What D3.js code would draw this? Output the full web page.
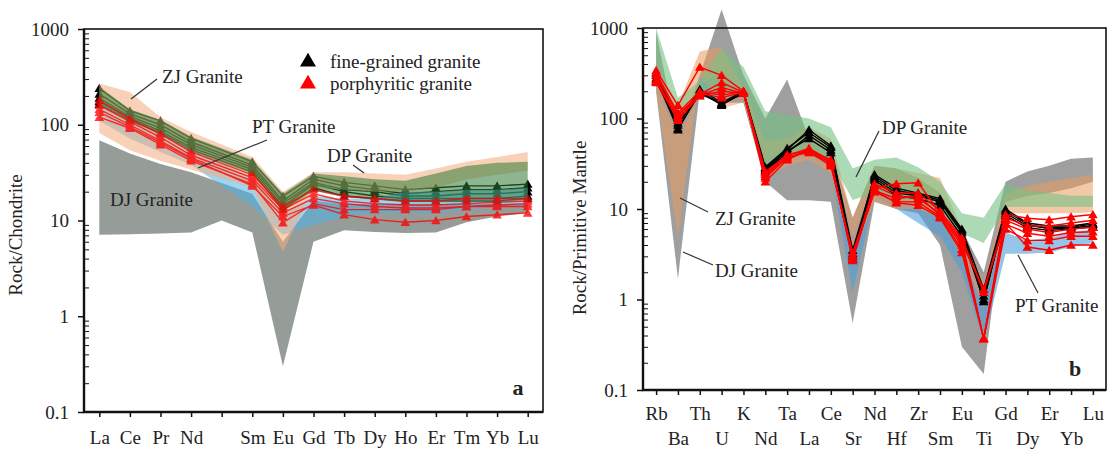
<!DOCTYPE html>
<html>
<head>
<meta charset="utf-8">
<script src="https://cdn.jsdelivr.net/npm/d3@7"></script>
<style>
body { margin: 0; background: #fff; }
svg text { font-family: "Liberation Serif", "Times New Roman", serif; fill: #222; }
</style>
</head>
<body>
<svg id="chart" width="1109" height="450"></svg>
<script>
// ---- panel a : chondrite-normalised REE ----
var reeElements = ["La","Ce","Pr","Nd","Pm","Sm","Eu","Gd","Tb","Dy","Ho","Er","Tm","Yb","Lu"];

var reeFine = [
  [240,140,110,72,null,41,18,29,25,23,21,22,23,23,24],
  [210,130,100,66,null,38,16,27,23,21,19,20,21,21,22],
  [190,122,92,62,null,36,15,25,21,20,18,18,19,19,20],
  [175,118,86,58,null,34,14,24,20,18,17,17,17,17,18],
  [165,112,82,55,null,32,13,22,18,17,16,16,16,16,17]
];
var reePorph = [
  [180,115,80,52,null,30,14,21,18,17,16,16,17,17,17],
  [160,108,74,48,null,28,13,19,16,15,14.5,14.5,15,15.5,16],
  [145,100,68,45,null,26,12,17,15,14,13.5,13.5,14,14.5,15],
  [120,92,62,42,null,24,9.5,15,13,13,13,13,14,14,14],
  [135,95,65,44,null,23,11,14.5,11.5,10.2,9.6,10,11,11.5,12]
];

var reeDJUpper = [69,50,39,32,null,19,6,16,15,15,15,15,15,15,15];
var reeDJLower = [7.1,7.2,7.3,7.5,10,7.5,0.3,6,7.9,7.6,7.4,7.5,9.6,11,12];
var reePTUpper = [175,110,80,55,null,28,12,18,17,17,20,20,21,21,22];
var reePTLower = [110,72,52,38,null,14,7.1,9,11,12,12,12,13,14,14];
var reeZJUpper = [270,220,120,84,null,46,20,32,32,31,30,35,41,46,52];
var reeZJLower = [82,54,42,34,null,22,4.7,22,21,20,20,22,27,30,33];
var reeDPUpper = [250,145,112,75,null,43,19,31,29,27,26,31,37,40,41];
var reeDPLower = [158,108,80,53,null,31,12.5,20.5,17.5,16.5,15.5,15.5,15.5,15.5,16.5];

// ---- panel b : primitive-mantle-normalised spider diagram ----
var spiderElements = ["Rb","Ba","Th","U","K","Nd","Ta","La","Ce","Sr","Nd","Hf","Zr","Sm","Eu","Ti","Gd","Dy","Er","Yb","Lu"];

var spiderFine = [
  [300,78,190,145,190,28,45,75,50,3.0,24,17,15,13,6.0,1.3,10,7.0,6.5,6.5,7.0],
  [280,75,200,140,195,26,42,65,45,3.2,22,15,14,12,5.5,1.1,9.0,6.5,6.2,6.3,6.8],
  [260,85,195,145,190,27,44,60,42,2.8,21,14,13,11,5.0,1.0,8.5,6.2,5.8,6.0,6.3],
  [320,90,210,150,200,29,47,70,48,3.5,23,16,14.5,12.5,5.8,0.95,9.5,6.8,6.0,6.2,6.5]
];
var spiderPorph = [
  [340,140,370,300,200,20,35,45,35,2.7,17,19,19.5,9,4.5,0.37,8.7,7.9,7.6,8.2,8.7],
  [300,110,185,250,195,22,37,43,33,2.9,16,13,14,8.5,4.0,0.37,7.5,6.0,5.5,6.0,6.3],
  [270,100,180,220,190,23,38,42,31,3.1,15.5,12,12,8.2,3.6,0.37,6.8,5.4,5.0,5.5,5.6],
  [250,96,178,200,190,24,40,44,30,3.3,16,11.7,11,8,3.3,0.37,6.0,4.5,4.5,5.0,5.0],
  [320,115,200,180,200,25,36,46,32,3.0,18,14,13,9,4.2,1.3,7.0,3.8,3.5,4.0,4.0],
  [260,105,190,170,195,26,39,47,34,2.8,19,15,15,9.5,4.8,1.2,8.0,6.5,6.5,7.0,7.5]
];

var spDJUpper = [900,60,300,1600,300,100,270,60,45,8,30,28,22,15,6,2,20,26,30,36,37];
var spDJLower = [200,1.7,200,150,150,20,12.5,12.5,12,0.55,12,10,9,4,0.3,0.15,12,14,15,17,20];
var spPTUpper = [300,80,230,330,200,35,50,55,40,5,20,14,11,8,5,1.2,5.5,4.5,4.8,5.5,6];
var spPTLower = [230,60,180,150,150,22,35,40,28,1.2,14,10,7,5,2,0.35,3.2,3.2,3.3,3.8,4.2];
var spZJUpper = [400,140,550,620,220,55,60,80,60,8,30,28,25,22,6,1.5,15,18,20,22,24];
var spZJLower = [200,5,300,130,150,22,30,35,25,3,12,10,10,8,3,0.8,9,9,9,9,9.2];
var spDPUpper = [1000,170,260,600,370,120,110,100,80,28,35,37,29,20,9,8,19,16,15,14,14];
var spDPLower = [400,110,200,200,200,30,40,45,35,12.6,15,13,12,10,5.4,4.2,10.5,10.5,10.5,10.5,10.5];

var yTicks = [0.1, 1, 10, 100, 1000];

var svg = d3.select("#chart");

function fieldPath(x, y, upper, lower) {
    var pts = [];
    upper.forEach((v, i) => { if (v != null) pts.push([x(i), y(v)]); });
    for (var i = lower.length - 1; i >= 0; i--) {
        if (lower[i] != null) pts.push([x(i), y(lower[i])]);
    }
    return d3.line()(pts) + "Z";
}

function drawFields(g, x, y, fields) {
    fields.forEach(f => {
        g.append("path")
            .attr("d", fieldPath(x, y, f.upper, f.lower))
            .attr("fill", f.color)
            .attr("fill-opacity", f.opacity)
            .attr("stroke", "none");
    });
}

function drawSamples(g, x, y, rows, color, opacity) {
    var line = d3.line().x(d => x(d.i)).y(d => y(d.v));
    var tri = d3.symbol().type(d3.symbolTriangle).size(40);
    var s = g.append("g").attr("opacity", opacity || 1);
    rows.forEach(r => {
        var pts = r.map((v, i) => ({i: i, v: v})).filter(d => d.v != null);
        s.append("path")
            .attr("d", line(pts))
            .attr("fill", "none")
            .attr("stroke", color)
            .attr("stroke-width", 1.4);
        s.selectAll(null)
            .data(pts)
            .join("path")
            .attr("d", tri)
            .attr("transform", d => `translate(${x(d.i)},${y(d.v) + 1})`)
            .attr("fill", color);
    });
}

function drawAxes(g, x, y, p, labels, twoRows) {
    // minor ticks (inside)
    var minor = [];
    [0.1, 1, 10, 100].forEach(d => { for (var k = 2; k < 10; k++) minor.push(d * k); });
    g.append("g")
        .attr("transform", `translate(${p.left},0)`)
        .call(d3.axisRight(y).tickValues(minor).tickSize(5).tickFormat(""))
        .call(s => s.select(".domain").remove())
        .selectAll("line").attr("stroke", "#111").attr("stroke-width", 1);

    var ya = g.append("g")
        .attr("transform", `translate(${p.left},0)`)
        .call(d3.axisLeft(y).tickValues(yTicks).tickSize(6).tickSizeOuter(0).tickPadding(9).tickFormat(d3.format("~g")));
    ya.select(".domain").remove();
    ya.selectAll("line").attr("stroke", "#111").attr("stroke-width", 1.5);
    ya.selectAll("text").attr("font-size", 19).style("font-family", "Liberation Serif").attr("fill", "#222");

    var xa = g.append("g")
        .attr("transform", `translate(0,${p.bottom})`)
        .call(d3.axisBottom(x).tickSize(5).tickSizeOuter(0).tickFormat(i => labels[i] === "Pm" ? "" : labels[i]));
    xa.select(".domain").remove();
    xa.selectAll("line").attr("stroke", "#111").attr("stroke-width", 1.5);
    xa.selectAll("text")
        .attr("font-size", 19)
        .style("font-family", "Liberation Serif")
        .attr("fill", "#222")
        .attr("dy", "0.35em")
        .attr("y", (d, i) => twoRows ? (i % 2 === 0 ? 23 : 48) : 25);

    // frame
    g.append("rect")
        .attr("x", p.left).attr("y", p.top)
        .attr("width", p.right - p.left).attr("height", p.bottom - p.top)
        .attr("fill", "none").attr("stroke", "#111").attr("stroke-width", 1.6);
    g.append("path")
        .attr("d", `M${p.left},${p.top}V${p.bottom}H${p.right}`)
        .attr("fill", "none").attr("stroke", "#111").attr("stroke-width", 2.4);
}

function label(g, txt, tx, ty, lx1, ly1, lx2, ly2) {
    if (lx1 != null) {
        g.append("line")
            .attr("x1", lx1).attr("y1", ly1).attr("x2", lx2).attr("y2", ly2)
            .attr("stroke", "#333").attr("stroke-width", 1.2);
    }
    g.append("text")
        .attr("x", tx).attr("y", ty)
        .attr("dy", "0.35em")
        .attr("font-size", 19)
        .text(txt);
}

// ================= panel a =================
var pa = {left: 84, right: 543, top: 29, bottom: 412};
var ga = svg.append("g");
var xa = d3.scalePoint().domain(d3.range(reeElements.length)).range([pa.left, pa.right]).padding(0.5);
var ya = d3.scaleLog().domain([0.1, 1000]).range([pa.bottom, pa.top]);

// black samples sit under the fields, red ones are drawn over them half-tinted
drawSamples(ga, xa, ya, reeFine, "#000");
drawFields(ga, xa, ya, [
    {upper: reeDJUpper, lower: reeDJLower, color: "#5e6961", opacity: 0.65},
    {upper: reePTUpper, lower: reePTLower, color: "#4eb2e8", opacity: 0.55},
    {upper: reeZJUpper, lower: reeZJLower, color: "#f2ab7d", opacity: 0.55},
    {upper: reeDPUpper, lower: reeDPLower, color: "#2f7a35", opacity: 0.55}
]);
drawSamples(ga, xa, ya, reePorph, "#ff0000", 0.78);
drawAxes(ga, xa, ya, pa, reeElements, false);

ga.append("text")
    .attr("transform", "translate(22,235) rotate(-90)")
    .attr("text-anchor", "middle")
    .attr("font-size", 19)
    .text("Rock/Chondrite");

label(ga, "ZJ Granite", 162, 76, 131, 99, 157, 79);
label(ga, "PT Granite", 252, 126, 198, 168, 267, 140);
label(ga, "DP Granite", 327, 155, 353, 165, 364, 173);
label(ga, "DJ Granite", 110, 199);

ga.append("text")
    .attr("x", 518).attr("y", 387).attr("dy", "0.35em")
    .attr("text-anchor", "middle")
    .attr("font-size", 22).attr("font-weight", "bold")
    .text("a");

// legend
var legTri = d3.symbol().type(d3.symbolTriangle).size(110);
[["fine-grained granite", "#000", 61], ["porphyritic granite", "#ff0000", 83]].forEach(d => {
    ga.append("path").attr("d", legTri).attr("transform", `translate(308,${d[2] + 1})`).attr("fill", d[1]);
    ga.append("text").attr("x", 330).attr("y", d[2]).attr("dy", "0.35em").attr("font-size", 19).text(d[0]);
});

// ================= panel b =================
var pb = {left: 643, right: 1106, top: 28, bottom: 390};
var gb = svg.append("g");
var xb = d3.scalePoint().domain(d3.range(spiderElements.length)).range([pb.left, pb.right]).padding(0.6);
var yb = d3.scaleLog().domain([0.1, 1000]).range([pb.bottom, pb.top]);

drawFields(gb, xb, yb, [
    {upper: spDJUpper, lower: spDJLower, color: "#646464", opacity: 0.62},
    {upper: spPTUpper, lower: spPTLower, color: "#4f9fd8", opacity: 0.6},
    {upper: spZJUpper, lower: spZJLower, color: "#e99a5e", opacity: 0.55},
    {upper: spDPUpper, lower: spDPLower, color: "#75c283", opacity: 0.6}
]);
drawSamples(gb, xb, yb, spiderFine, "#000");
drawSamples(gb, xb, yb, spiderPorph, "#ff0000");
drawAxes(gb, xb, yb, pb, spiderElements, true);

gb.append("text")
    .attr("transform", "translate(586,228) rotate(-90)")
    .attr("text-anchor", "middle")
    .attr("font-size", 19)
    .text("Rock/Primitive Mantle");

label(gb, "DP Granite", 882, 127, 879, 131, 856, 177);
label(gb, "ZJ Granite", 715, 218, 708, 212, 680, 198);
label(gb, "DJ Granite", 715, 270, 713, 265, 683, 252);
label(gb, "PT Granite", 1015, 305, 1038, 293, 1018, 255);

gb.append("text")
    .attr("x", 1075).attr("y", 368).attr("dy", "0.35em")
    .attr("text-anchor", "middle")
    .attr("font-size", 22).attr("font-weight", "bold")
    .text("b");
</script>
</body>
</html>
